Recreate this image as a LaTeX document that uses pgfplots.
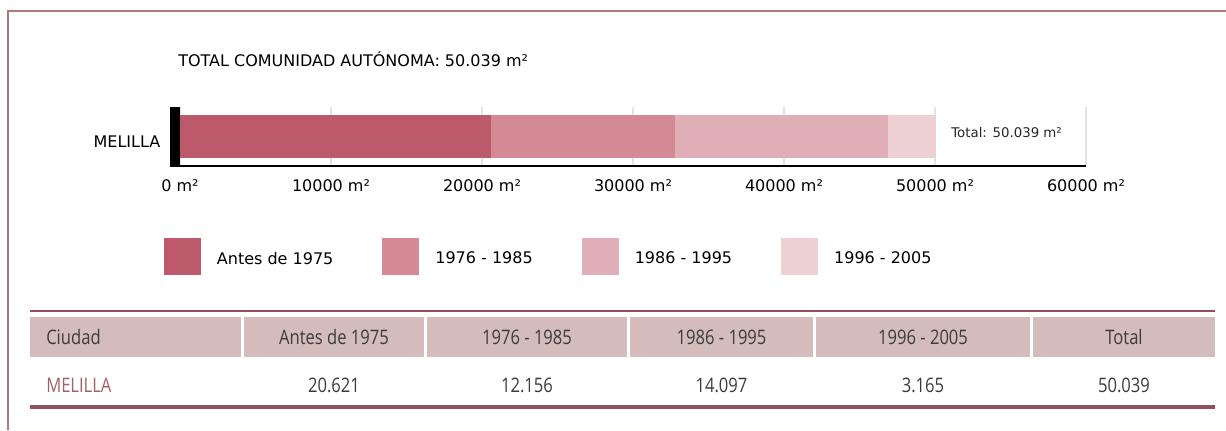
\documentclass[border=0pt]{standalone}
\usepackage{fontspec}
\setmainfont{DejaVu Sans}
\newfontfamily\tabfont[FakeStretch=0.83]{Open Sans}
\usepackage{pgfplots}
\pgfplotsset{compat=1.18}
\definecolor{segA}{RGB}{188,90,108}
\definecolor{segB}{RGB}{212,138,149}
\definecolor{segC}{RGB}{224,174,182}
\definecolor{segD}{RGB}{237,208,211}
\definecolor{headbg}{RGB}{212,188,188}
\definecolor{rule}{RGB}{147,80,90}
\definecolor{framecol}{RGB}{176,118,126}
\definecolor{cityred}{RGB}{160,96,107}
\definecolor{tabtext}{RGB}{60,60,60}
\pgfplotsset{
  sqlegend/.style={legend image code/.code={\fill[##1,draw=none] (0pt,-12pt) rectangle (27.75pt,15.75pt);}},
}

\begin{document}
\begin{tikzpicture}
% layout in pixel units (y downwards)
\begin{scope}[x=0.75pt,y=-0.75pt]
\useasboundingbox (0,0) rectangle (1226,430);
\draw[framecol, line width=0.9pt] (8,430) -- (8,11) -- (1226,11);
\node[anchor=base west, inner sep=0pt, font=\fontsize{12}{14}\selectfont] at (178,66.5)
  {TOTAL COMUNIDAD AUTÓNOMA: 50.039 m²};

% table
\draw[rule, line width=1.5pt] (30,311) -- (1215,311);
\fill[headbg] (30,317) rectangle (241,357);
\fill[headbg] (244,317) rectangle (424,357);
\fill[headbg] (427,317) rectangle (627,357);
\fill[headbg] (630,317) rectangle (813,357);
\fill[headbg] (816,317) rectangle (1030,357);
\fill[headbg] (1033,317) rectangle (1215,357);
\begin{scope}[every node/.style={inner sep=0pt, anchor=base, text=tabtext, font=\tabfont\fontsize{15}{18}\selectfont}]
\node[anchor=base west] at (46,344) {Ciudad};
\node at (334,344) {Antes de 1975};
\node at (527,344) {1976 - 1985};
\node at (721.5,344) {1986 - 1995};
\node at (923,344) {1996 - 2005};
\node at (1124,344) {Total};
\node[anchor=base west, text=cityred] at (46,392) {MELILLA};
\node at (334,392) {20.621};
\node at (527,392) {12.156};
\node at (721.5,392) {14.097};
\node at (923,392) {3.165};
\node at (1124,392) {50.039};
\end{scope}
\draw[rule, line width=3pt] (30,407) -- (1215,407);
\end{scope}

\begin{axis}[
    at={(135pt,-124.5pt)}, anchor=south west,
    scale only axis, width=679.5pt, height=44.25pt,
    xbar stacked, bar width=32.25pt,
    xmin=0, xmax=60000, ymin=-0.5, ymax=0.5,
    scaled x ticks=false,
    xtick={0,10000,20000,30000,40000,50000,60000},
    xticklabels={0 m², 10000 m², 20000 m², 30000 m², 40000 m², 50000 m², 60000 m²},
    ytick={0}, yticklabels={MELILLA},
    major tick length=0pt,
    tick label style={font=\fontsize{12}{14}\selectfont},
    xticklabel style={anchor=base, yshift=-18.75pt},
    yticklabel style={anchor=base east, xshift=-11.25pt, yshift=-7.9pt},
    axis x line=bottom, axis y line=left,
    x axis line style={-, black, line width=1.5pt},
    y axis line style={draw=none},
    xmajorgrids, major grid style={draw=gray!22, line width=0.9pt},
    clip=false,
    legend columns=4,
    legend style={at={(axis description cs:-0.0177,-1.22)}, anchor=north west,
      draw=none, fill=none, inner sep=0pt, outer sep=0pt,
      font=\fontsize{12}{14}\selectfont,
      nodes={inner sep=0pt},
      /tikz/every odd column/.append style={column sep=12pt},
      /tikz/every even column/.append style={column sep=36.75pt}},
]
\addplot[fill=segA, draw=none, sqlegend] coordinates {(20621,0)};
\addplot[fill=segB, draw=none, sqlegend] coordinates {(12156,0)};
\addplot[fill=segC, draw=none, sqlegend] coordinates {(14097,0)};
\addplot[fill=segD, draw=none, sqlegend] coordinates {(3165,0)};
\legend{Antes de 1975, 1976 - 1985, 1986 - 1995, 1996 - 2005}
\fill[black] ([xshift=-7.5pt,yshift=-0.75pt]axis description cs:0,0) rectangle (axis description cs:0,1);
\node[anchor=base west, inner sep=0pt, font=\fontsize{10}{12}\selectfont, text=black!85,
  xshift=11.6pt, yshift=-1.1pt] at (axis cs:50039,0) {Total: 50.039 m²};
\end{axis}
\end{tikzpicture}
\end{document}
